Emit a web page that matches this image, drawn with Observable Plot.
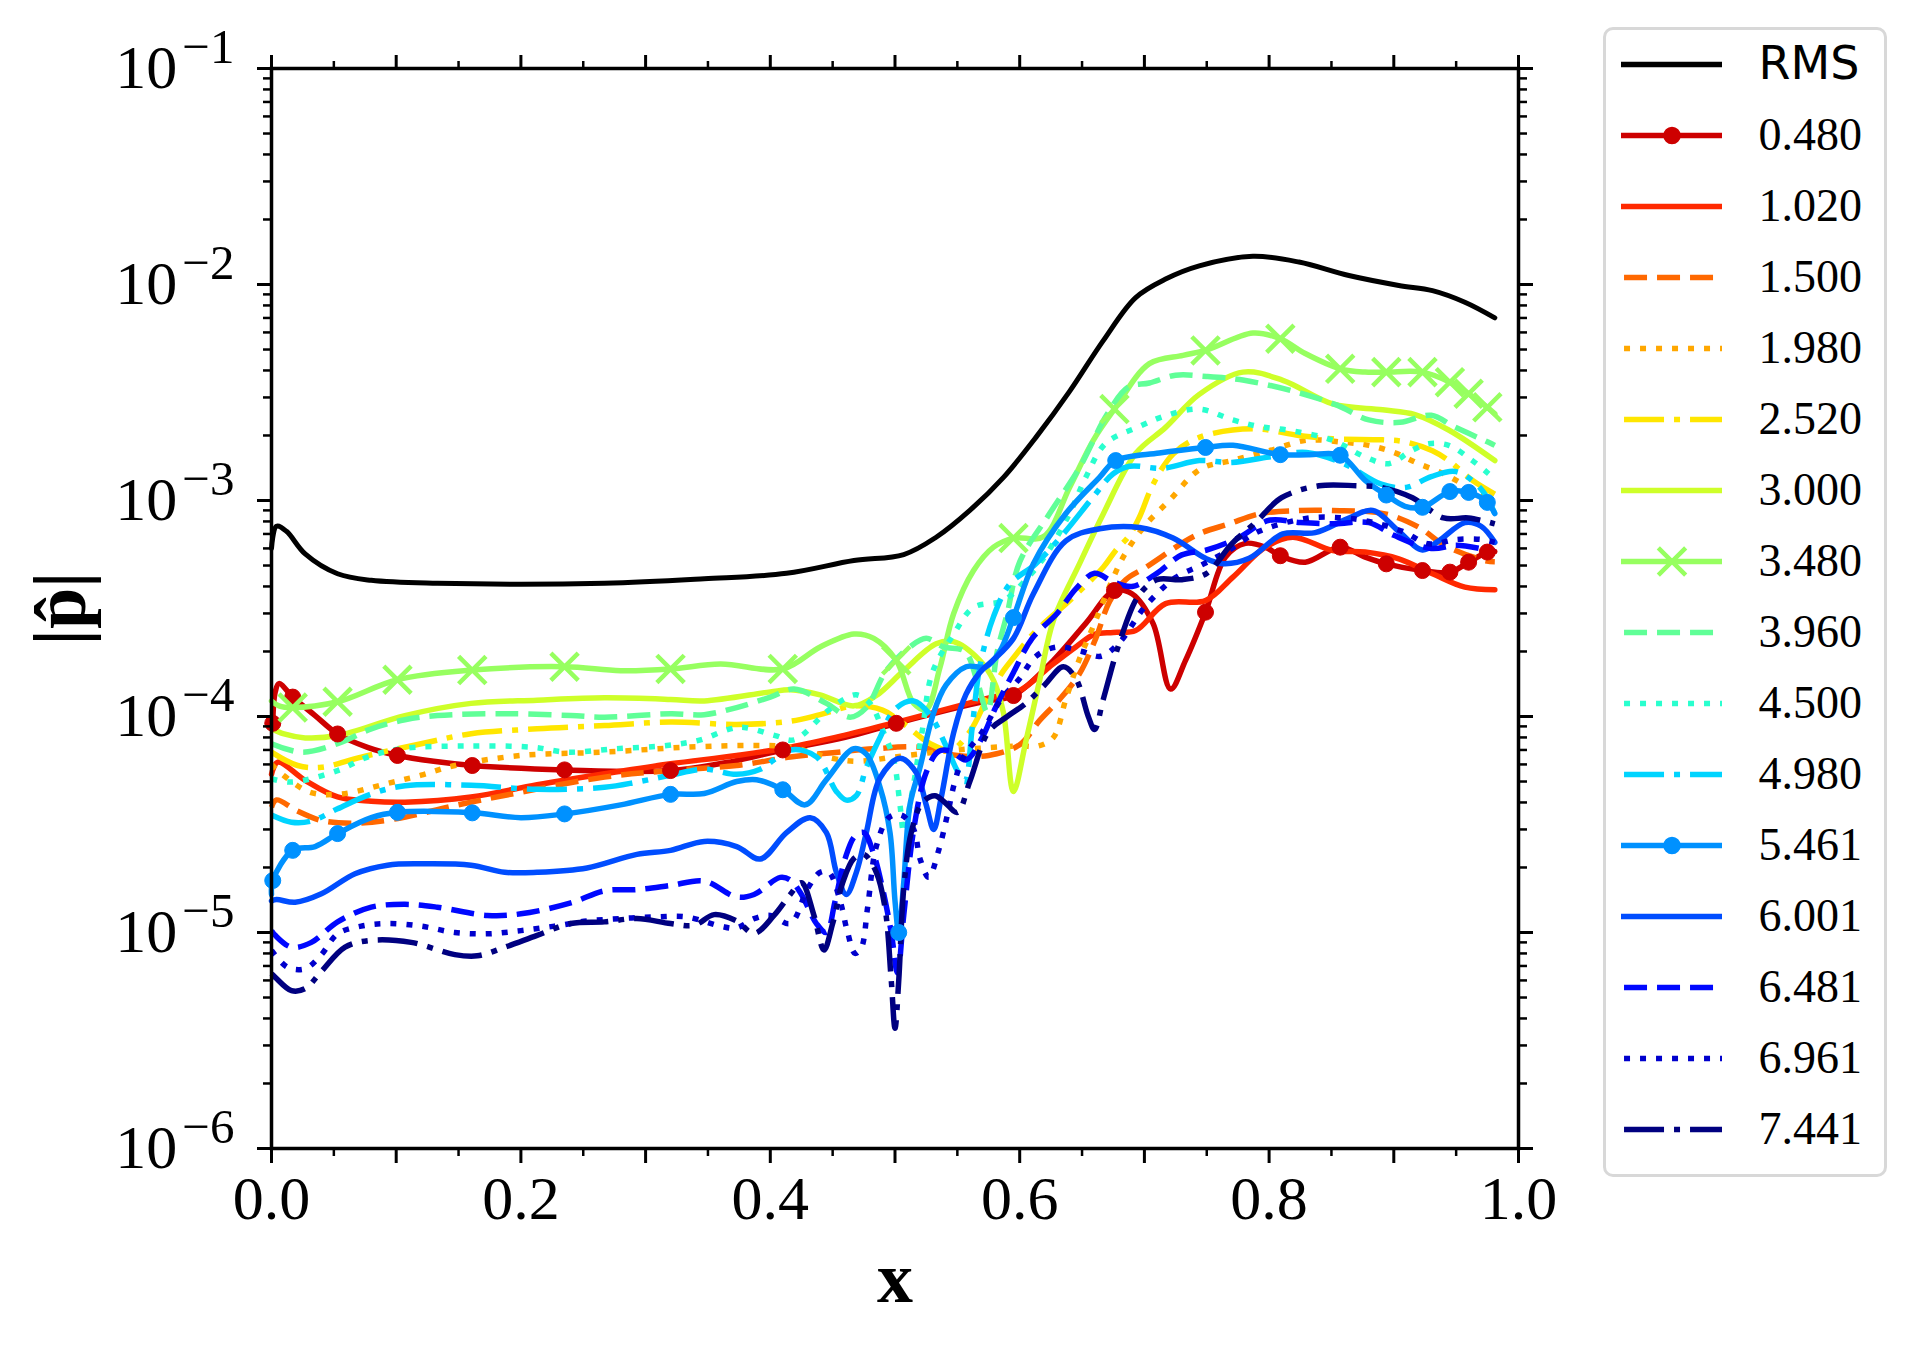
<!DOCTYPE html>
<html><head><meta charset="utf-8">
<script src="https://cdn.jsdelivr.net/npm/d3@7"></script>
<script src="https://cdn.jsdelivr.net/npm/@observablehq/plot@0.6"></script>
<style>
html,body{margin:0;padding:0;background:#fff;}
#wrap{position:relative;width:1920px;height:1350px;overflow:hidden;background:#fff;}
#chart{position:absolute;left:0;top:0;}
#legendBox{position:absolute;left:1603px;top:27px;width:284px;height:1150px;border:3px solid #d8d8d8;border-radius:10px;box-sizing:border-box;background:#fff;}
#legend{position:absolute;left:1603px;top:27px;line-height:0;}
</style>
</head><body><div id="wrap"><div id="chart"></div><div id="legendBox"></div><div id="legend"></div></div>
<script>
// ---------- data (x, |p|, marker flag) ----------
const rms = [[0,6.0e-4],[0.004,7.6e-4],[0.012,7.2e-4],[0.027,5.66e-4],[0.053,4.58e-4],[0.08,4.27e-4],[0.133,4.14e-4],[0.267,4.14e-4],[0.347,4.34e-4],[0.413,4.6e-4],[0.467,5.27e-4],[0.507,5.62e-4],[0.533,6.76e-4],[0.56,9.0e-4],[0.587,1.28e-3],[0.613,1.96e-3],[0.64,3.2e-3],[0.667,5.5e-3],[0.693,8.7e-3],[0.717,1.06e-2],[0.744,1.22e-2],[0.787,1.35e-2],[0.824,1.27e-2],[0.864,1.1e-2],[0.904,9.9e-3],[0.931,9.37e-3],[0.957,8.28e-3],[0.981,7.01e-3]];
const p0480 = [[0.001,9.3e-5,1],[0.003,1.3e-4],[0.006,1.42e-4],[0.017,1.23e-4,1],[0.035,1.01e-4],[0.053,8.3e-5,1],[0.077,7.2e-5],[0.101,6.6e-5,1],[0.13,6.2e-5],[0.161,5.93e-5,1],[0.235,5.66e-5,1],[0.32,5.62e-5,1],[0.37,6.2e-5],[0.41,7.0e-5,1],[0.46,8.0e-5],[0.501,9.3e-5,1],[0.55,1.1e-4],[0.573,1.18e-4],[0.595,1.25e-4,1],[0.627,1.82e-4],[0.653,2.7e-4],[0.676,3.83e-4,1],[0.69,3.7e-4],[0.707,2.69e-4],[0.721,1.34e-4],[0.733,1.82e-4],[0.749,3.04e-4,1],[0.765,5.47e-4],[0.781,6.33e-4],[0.797,6.08e-4],[0.809,5.55e-4,1],[0.829,5.18e-4],[0.857,6.08e-4,1],[0.877,5.47e-4],[0.894,5.09e-4,1],[0.923,4.74e-4,1],[0.945,4.66e-4,1],[0.96,5.18e-4,1],[0.975,5.77e-4,1],[0.981,5.8e-4]];
const p1020 = [[0,5.4e-5],[0.005,6.15e-5],[0.027,5.06e-5],[0.053,4.24e-5],[0.08,4.05e-5],[0.107,4.01e-5],[0.16,4.24e-5],[0.213,4.83e-5],[0.267,5.43e-5],[0.32,6.04e-5],[0.373,6.6e-5],[0.416,7.21e-5],[0.46,8.2e-5],[0.501,9.4e-5],[0.573,1.21e-4],[0.6,1.32e-4],[0.624,1.7e-4],[0.645,2.1e-4],[0.66,2.4e-4],[0.675,2.45e-4],[0.693,2.5e-4],[0.717,3.33e-4],[0.749,3.44e-4],[0.771,4.42e-4],[0.797,6.08e-4],[0.819,6.76e-4],[0.851,5.87e-4],[0.877,5.77e-4],[0.904,5.37e-4],[0.931,4.58e-4],[0.957,3.97e-4],[0.981,3.86e-4]];
const p1500 = [[0,3.8e-5],[0.004,4.11e-5],[0.02,3.67e-5],[0.04,3.3e-5],[0.067,3.21e-5],[0.1,3.36e-5],[0.147,3.87e-5],[0.2,4.46e-5],[0.267,5.24e-5],[0.32,5.62e-5],[0.373,5.93e-5],[0.416,6.49e-5],[0.45,6.8e-5],[0.485,7.1e-5],[0.52,7.2e-5],[0.55,6.6e-5],[0.575,6.6e-5],[0.6,7.4e-5],[0.616,9.6e-5],[0.632,1.2e-4],[0.648,1.58e-4],[0.661,2.3e-4],[0.672,3.4e-4],[0.685,4.3e-4],[0.701,4.9e-4],[0.741,6.89e-4],[0.768,7.8e-4],[0.792,8.67e-4],[0.824,8.99e-4],[0.851,8.99e-4],[0.893,8.67e-4],[0.92,7.52e-4],[0.941,6.19e-4],[0.973,5.27e-4],[0.981,5.2e-4]];
const p1980 = [[0,6.0e-5],[0.008,5.43e-5],[0.031,4.46e-5],[0.056,4.38e-5],[0.093,4.9e-5],[0.12,5.35e-5],[0.147,5.93e-5],[0.2,6.6e-5],[0.267,6.84e-5],[0.333,7.21e-5],[0.384,7.34e-5],[0.416,7.21e-5],[0.45,6.4e-5],[0.47,6.2e-5],[0.5,6.5e-5],[0.55,7.0e-5],[0.6,7.3e-5],[0.615,7.3e-5],[0.627,8.0e-5],[0.637,1.2e-4],[0.648,1.85e-4],[0.66,2.7e-4],[0.672,4.0e-4],[0.684,5.6e-4],[0.7,7.6e-4],[0.72,1.0e-3],[0.745,1.4e-3],[0.77,1.53e-3],[0.8,1.7e-3],[0.83,1.9e-3],[0.86,1.86e-3],[0.88,1.8e-3],[0.9,1.67e-3],[0.92,1.48e-3],[0.94,1.33e-3],[0.96,1.15e-3],[0.981,1.0e-3]];
const p2520 = [[0,6.84e-5],[0.021,5.93e-5],[0.04,5.82e-5],[0.072,6.49e-5],[0.12,7.48e-5],[0.16,8.32e-5],[0.213,8.77e-5],[0.267,9.08e-5],[0.32,9.42e-5],[0.373,9.19e-5],[0.416,9.5e-5],[0.44,1.02e-4],[0.467,1.12e-4],[0.49,1.07e-4],[0.507,9.25e-5],[0.528,7.5e-5],[0.545,7.0e-5],[0.56,8.5e-5],[0.575,1.25e-4],[0.587,1.63e-4],[0.595,1.87e-4],[0.611,2.42e-4],[0.643,3.57e-4],[0.667,4.91e-4],[0.677,5.87e-4],[0.688,6.9e-4],[0.696,8.37e-4],[0.707,1.19e-3],[0.723,1.64e-3],[0.744,1.96e-3],[0.787,2.15e-3],[0.824,2.0e-3],[0.851,1.93e-3],[0.891,1.91e-3],[0.909,1.87e-3],[0.931,1.7e-3],[0.944,1.53e-3],[0.963,1.24e-3],[0.981,1.07e-3]];
const p3000 = [[0,8.77e-5],[0.01,8.3e-5],[0.027,7.96e-5],[0.053,8.16e-5],[0.107,1.01e-4],[0.16,1.15e-4],[0.213,1.19e-4],[0.267,1.22e-4],[0.32,1.2e-4],[0.347,1.18e-4],[0.4,1.3e-4],[0.416,1.33e-4],[0.44,1.26e-4],[0.467,1.12e-4],[0.485,1.25e-4],[0.507,1.63e-4],[0.533,2.17e-4],[0.547,2.22e-4],[0.568,1.82e-4],[0.579,1.47e-4],[0.587,1.04e-4],[0.595,4.5e-5],[0.605,7.7e-5],[0.616,1.47e-4],[0.627,2.78e-4],[0.648,5.1e-4],[0.667,8.67e-4],[0.693,1.65e-3],[0.717,2.18e-3],[0.744,3.1e-3],[0.779,3.93e-3],[0.811,3.6e-3],[0.851,2.8e-3],[0.891,2.63e-3],[0.917,2.5e-3],[0.944,2.12e-3],[0.981,1.53e-3]];
const p3480 = [[0,1.18e-4],[0.006,1.12e-4],[0.017,1.1e-4,1],[0.053,1.17e-4,1],[0.101,1.48e-4,1],[0.161,1.64e-4,1],[0.235,1.7e-4,1],[0.28,1.63e-4],[0.32,1.66e-4,1],[0.36,1.75e-4],[0.41,1.66e-4,1],[0.44,2.1e-4],[0.467,2.41e-4],[0.483,2.3e-4],[0.501,1.82e-4,1],[0.515,1.15e-4],[0.525,1.08e-4],[0.536,1.68e-4],[0.547,2.99e-4],[0.563,4.74e-4],[0.579,6.08e-4],[0.595,6.7e-4,1],[0.619,6.8e-4],[0.64,1.15e-3],[0.659,1.9e-3],[0.676,2.65e-3,1],[0.704,4.3e-3],[0.731,4.7e-3],[0.749,4.95e-3,1],[0.787,5.96e-3],[0.809,5.61e-3,1],[0.829,4.79e-3],[0.857,4.07e-3,1],[0.877,3.93e-3],[0.894,3.93e-3,1],[0.923,3.93e-3,1],[0.945,3.53e-3,1],[0.96,3.12e-3,1],[0.975,2.7e-3,1],[0.981,2.52e-3]];
const p3960 = [[0,7.48e-5],[0.024,6.84e-5],[0.053,7.48e-5],[0.08,8.77e-5],[0.107,9.66e-5],[0.133,1.01e-4],[0.187,1.03e-4],[0.24,1.01e-4],[0.267,9.93e-5],[0.32,1.03e-4],[0.347,1.02e-4],[0.373,1.1e-4],[0.4,1.23e-4],[0.419,1.34e-4],[0.445,1.15e-4],[0.464,9.93e-5],[0.477,1.1e-4],[0.493,1.63e-4],[0.512,2.1e-4],[0.525,2.3e-4],[0.539,2.1e-4],[0.556,2.0e-4],[0.566,1.45e-4],[0.574,1.05e-4],[0.582,2.0e-4],[0.59,3.0e-4],[0.6,5.2e-4],[0.624,8.7e-4],[0.648,1.42e-3],[0.67,2.5e-3],[0.687,3.35e-3],[0.704,3.5e-3],[0.725,3.8e-3],[0.75,3.75e-3],[0.78,3.6e-3],[0.82,3.2e-3],[0.854,2.77e-3],[0.88,2.36e-3],[0.905,2.3e-3],[0.93,2.48e-3],[0.948,2.2e-3],[0.976,1.86e-3],[0.981,1.8e-3]];
const p4500 = [[0,5.15e-5],[0.016,4.97e-5],[0.053,5.62e-5],[0.077,6.49e-5],[0.104,7.1e-5],[0.157,7.3e-5],[0.21,7.2e-5],[0.237,6.84e-5],[0.277,7.1e-5],[0.317,7.34e-5],[0.344,7.8e-5],[0.368,8.77e-5],[0.379,8.9e-5],[0.404,8.16e-5],[0.419,7.8e-5],[0.445,1.05e-4],[0.459,1.2e-4],[0.469,1.26e-4],[0.48,1.15e-4],[0.491,8.4e-5],[0.499,6.3e-5],[0.504,3.9e-5],[0.507,2.9e-5],[0.51,3.4e-5],[0.515,4.9e-5],[0.522,8.7e-5],[0.53,1.6e-4],[0.547,2.4e-4],[0.563,3.2e-4],[0.587,3.44e-4],[0.605,4.3e-4],[0.621,5.6e-4],[0.64,8.7e-4],[0.653,1.28e-3],[0.669,1.84e-3],[0.696,2.2e-3],[0.717,2.47e-3],[0.744,2.65e-3],[0.771,2.36e-3],[0.792,2.2e-3],[0.819,2.1e-3],[0.851,1.9e-3],[0.877,1.59e-3],[0.896,1.48e-3],[0.914,1.7e-3],[0.928,1.83e-3],[0.944,1.8e-3],[0.963,1.53e-3],[0.976,1.33e-3],[0.981,1.25e-3]];
const p4980 = [[0,3.5e-5],[0.016,3.24e-5],[0.032,3.28e-5],[0.053,3.74e-5],[0.08,4.38e-5],[0.107,4.78e-5],[0.16,4.8e-5],[0.213,4.6e-5],[0.267,4.7e-5],[0.293,4.97e-5],[0.32,5.35e-5],[0.347,5.7e-5],[0.373,5.4e-5],[0.392,5.7e-5],[0.416,7.0e-5],[0.437,6.5e-5],[0.453,4.5e-5],[0.461,4.1e-5],[0.469,4.3e-5],[0.477,5.8e-5],[0.488,8.0e-5],[0.5,1.08e-4],[0.515,1.18e-4],[0.528,1.02e-4],[0.54,7.5e-5],[0.55,5.6e-5],[0.556,5.0e-5],[0.562,9.0e-5],[0.568,1.7e-4],[0.579,2.9e-4],[0.592,4.1e-4],[0.613,5.1e-4],[0.635,7.0e-4],[0.659,1.04e-3],[0.675,1.33e-3],[0.688,1.44e-3],[0.715,1.41e-3],[0.744,1.53e-3],[0.77,1.5e-3],[0.8,1.59e-3],[0.83,1.67e-3],[0.86,1.48e-3],[0.89,1.19e-3],[0.91,1.15e-3],[0.93,1.29e-3],[0.95,1.36e-3],[0.97,1.13e-3],[0.981,8.7e-4]];
const p5461 = [[0,1.5e-5],[0.001,1.74e-5,1],[0.017,2.4e-5,1],[0.035,2.5e-5],[0.053,2.87e-5,1],[0.08,3.4e-5],[0.101,3.6e-5,1],[0.161,3.58e-5,1],[0.2,3.4e-5],[0.235,3.54e-5,1],[0.28,3.9e-5],[0.32,4.36e-5,1],[0.347,4.4e-5],[0.373,5.0e-5],[0.389,5.1e-5],[0.41,4.58e-5,1],[0.428,3.9e-5],[0.445,5.1e-5],[0.467,7.1e-5],[0.477,6.7e-5],[0.488,4.7e-5],[0.496,2.9e-5],[0.5,1.4e-5],[0.503,1.0e-5,1],[0.507,1.7e-5],[0.512,3.9e-5],[0.52,5.8e-5],[0.531,1.04e-4],[0.541,1.4e-4],[0.557,1.7e-4],[0.573,1.7e-4],[0.584,2.0e-4],[0.595,2.87e-4,1],[0.611,5.1e-4],[0.637,8.7e-4],[0.664,1.28e-3],[0.677,1.53e-3,1],[0.712,1.66e-3],[0.749,1.76e-3,1],[0.771,1.8e-3],[0.809,1.63e-3,1],[0.832,1.63e-3],[0.857,1.62e-3,1],[0.877,1.24e-3],[0.894,1.06e-3,1],[0.909,9.4e-4],[0.923,9.3e-4,1],[0.945,1.1e-3,1],[0.96,1.09e-3,1],[0.975,9.8e-4,1],[0.981,8.7e-4]];
const p6001 = [[0,1.4e-5],[0.004,1.42e-5],[0.019,1.38e-5],[0.04,1.51e-5],[0.067,1.87e-5],[0.093,2.05e-5],[0.12,2.08e-5],[0.16,2.05e-5],[0.187,1.9e-5],[0.213,1.9e-5],[0.253,1.99e-5],[0.293,2.3e-5],[0.32,2.4e-5],[0.347,2.64e-5],[0.373,2.5e-5],[0.392,2.19e-5],[0.413,2.9e-5],[0.432,3.4e-5],[0.445,2.9e-5],[0.453,1.9e-5],[0.461,1.5e-5],[0.469,1.9e-5],[0.477,2.9e-5],[0.488,5.2e-5],[0.504,6.4e-5],[0.517,5.5e-5],[0.525,3.9e-5],[0.531,3.0e-5],[0.537,4.2e-5],[0.547,8.4e-5],[0.557,1.27e-4],[0.568,1.6e-4],[0.579,1.83e-4],[0.595,2.3e-4],[0.611,3.7e-4],[0.637,6.5e-4],[0.664,7.4e-4],[0.696,7.5e-4],[0.723,6.7e-4],[0.749,5.4e-4],[0.763,5.1e-4],[0.784,5.4e-4],[0.811,7.0e-4],[0.837,7.1e-4],[0.864,8.3e-4],[0.883,9.0e-4],[0.904,7.2e-4],[0.923,5.9e-4],[0.936,6.5e-4],[0.957,7.9e-4],[0.97,7.6e-4],[0.981,6.4e-4]];
const p6481 = [[0,1.02e-5],[0.003,9.7e-6],[0.016,8.55e-6],[0.032,9.0e-6],[0.053,1.12e-5],[0.08,1.31e-5],[0.107,1.35e-5],[0.133,1.31e-5],[0.173,1.2e-5],[0.2,1.22e-5],[0.24,1.37e-5],[0.267,1.56e-5],[0.293,1.58e-5],[0.32,1.65e-5],[0.347,1.73e-5],[0.373,1.46e-5],[0.387,1.5e-5],[0.408,1.8e-5],[0.416,1.75e-5],[0.425,1.5e-5],[0.437,1.1e-5],[0.445,1.0e-5],[0.452,1.4e-5],[0.46,2.2e-5],[0.468,2.8e-5],[0.475,2.9e-5],[0.483,2.3e-5],[0.49,1.6e-5],[0.497,1.0e-5],[0.502,6.5e-6],[0.507,1.2e-5],[0.515,3.0e-5],[0.525,5.5e-5],[0.535,6.9e-5],[0.545,6.9e-5],[0.557,6.3e-5],[0.57,8.0e-5],[0.58,1.08e-4],[0.595,1.6e-4],[0.61,2.3e-4],[0.63,3.0e-4],[0.645,3.9e-4],[0.66,4.6e-4],[0.675,4.2e-4],[0.69,4.0e-4],[0.71,4.6e-4],[0.73,5.6e-4],[0.75,5.9e-4],[0.775,6.7e-4],[0.8,8.1e-4],[0.825,7.9e-4],[0.853,7.8e-4],[0.88,7.9e-4],[0.9,6.9e-4],[0.93,6.0e-4],[0.95,6.2e-4],[0.975,5.9e-4],[0.981,5.8e-4]];
const p6961 = [[0,8.26e-6],[0.013,6.9e-6],[0.027,6.8e-6],[0.04,7.9e-6],[0.053,9.86e-6],[0.072,1.07e-5],[0.093,1.1e-5],[0.12,1.07e-5],[0.147,1.0e-5],[0.173,9.86e-6],[0.2,1.02e-5],[0.227,1.07e-5],[0.253,1.13e-5],[0.28,1.16e-5],[0.307,1.18e-5],[0.333,1.18e-5],[0.36,1.07e-5],[0.373,1.05e-5],[0.387,1.16e-5],[0.4,1.2e-5],[0.416,1.1e-5],[0.43,1.6e-5],[0.44,1.9e-5],[0.447,1.9e-5],[0.456,1.4e-5],[0.462,1.0e-5],[0.468,8.0e-6],[0.473,8.5e-6],[0.478,1.3e-5],[0.485,2.5e-5],[0.495,3.4e-5],[0.505,3.5e-5],[0.515,3.0e-5],[0.52,2.2e-5],[0.527,1.8e-5],[0.535,2.4e-5],[0.542,3.5e-5],[0.548,5.0e-5],[0.555,6.5e-5],[0.57,8.5e-5],[0.585,1.2e-4],[0.6,1.5e-4],[0.613,1.9e-4],[0.63,2.1e-4],[0.65,2.0e-4],[0.665,1.9e-4],[0.68,2.2e-4],[0.7,3.2e-4],[0.725,4.4e-4],[0.745,5.0e-4],[0.768,5.9e-4],[0.792,7.2e-4],[0.832,8.3e-4],[0.86,8.3e-4],[0.88,8.0e-4],[0.907,7.2e-4],[0.928,6.3e-4],[0.95,6.6e-4],[0.97,6.6e-4],[0.981,6.4e-4]];
const p7441 = [[0,6.44e-6],[0.003,6.2e-6],[0.016,5.38e-6],[0.027,5.5e-6],[0.04,6.6e-6],[0.059,8.55e-6],[0.08,9.2e-6],[0.112,9.0e-6],[0.147,7.9e-6],[0.165,7.8e-6],[0.187,8.55e-6],[0.213,9.7e-6],[0.24,1.1e-5],[0.267,1.12e-5],[0.293,1.16e-5],[0.32,1.1e-5],[0.339,1.08e-5],[0.355,1.21e-5],[0.373,1.13e-5],[0.387,9.9e-6],[0.403,1.2e-5],[0.416,1.5e-5],[0.425,1.7e-5],[0.435,1.2e-5],[0.443,8.3e-6],[0.45,1.1e-5],[0.458,1.7e-5],[0.467,2.2e-5],[0.475,2.3e-5],[0.485,1.9e-5],[0.492,1.3e-5],[0.497,6.0e-6],[0.5,3.6e-6],[0.503,6.0e-6],[0.507,1.6e-5],[0.513,2.9e-5],[0.522,4.0e-5],[0.532,4.3e-5],[0.54,4.0e-5],[0.55,3.6e-5],[0.56,5.0e-5],[0.575,8.5e-5],[0.59,1.0e-4],[0.605,1.15e-4],[0.62,1.4e-4],[0.635,1.7e-4],[0.645,1.5e-4],[0.655,1.0e-4],[0.66,8.7e-5],[0.667,1.2e-4],[0.68,2.2e-4],[0.695,3.6e-4],[0.71,4.3e-4],[0.73,4.3e-4],[0.75,4.6e-4],[0.77,6.3e-4],[0.79,8.0e-4],[0.81,1.03e-3],[0.84,1.17e-3],[0.87,1.17e-3],[0.89,1.15e-3],[0.915,1.03e-3],[0.94,8.3e-4],[0.96,8.3e-4],[0.981,7.8e-4]];

const seriesLabels = ["RMS","0.480","1.020","1.500","1.980","2.520","3.000","3.480","3.960","4.500","4.980","5.461","6.001","6.481","6.961","7.441"];
const seriesData   = [rms,p0480,p1020,p1500,p1980,p2520,p3000,p3480,p3960,p4500,p4980,p5461,p6001,p6481,p6961,p7441];
const seriesColors = ["#000000","#cd0000","#ff2900","#ff6800","#ffa700","#ffe600","#ceff29","#97ff60","#60ff97","#29ffce","#00d4ff","#0091ff","#004dff","#0008ff","#0000cd","#000080"];
const seriesStyles = ["solid","solid","solid","dashed","dotted","dashdot","solid","solid","dashed","dotted","dashdot","solid","solid","dashed","dotted","dashdot"];
const seriesMarkers = [null,"circle",null,null,null,null,null,"times",null,null,null,"circle",null,null,null,null];

// axis ticks
const xMajor = [0,0.1,0.2,0.3,0.4,0.5,0.6,0.7,0.8,0.9,1.0];
const xMinor = [0.05,0.15,0.25,0.35,0.45,0.55,0.65,0.75,0.85,0.95];
const xLabeled = [0,0.2,0.4,0.6,0.8,1.0];
const yMajor = [1e-6,1e-5,1e-4,1e-3,1e-2,1e-1];
const yMinor = [2e-6,3e-6,4e-6,5e-6,6e-6,7e-6,8e-6,9e-6,2e-5,3e-5,4e-5,5e-5,6e-5,7e-5,8e-5,9e-5,2e-4,3e-4,4e-4,5e-4,6e-4,7e-4,8e-4,9e-4,2e-3,3e-3,4e-3,5e-3,6e-3,7e-3,8e-3,9e-3,2e-2,3e-2,4e-2,5e-2,6e-2,7e-2,8e-2,9e-2];

// ---------- styles ----------
const dashes = {solid: null, dashed: "23,10", dotted: "6,10", dashdot: "40,10,6,10"};
const LW = 5.5;
const serif = "'Liberation Serif', 'DejaVu Serif', serif";

const toRows = arr => arr.map(([x, y, m]) => ({x, y, m: !!m}));

const lineMarks = [];
const dotMarks = [];
seriesData.forEach((arr, i) => {
  const rows = toRows(arr);
  const st = seriesStyles[i];
  lineMarks.push(Plot.line(rows, {
    x: "x", y: "y", stroke: seriesColors[i], strokeWidth: i === 0 ? 5 : LW,
    strokeDasharray: dashes[st], strokeLinecap: st === "solid" ? "round" : "butt",
    strokeLinejoin: "round", curve: "catmull-rom"
  }));
  if (seriesMarkers[i] === "circle") {
    dotMarks.push(Plot.dot(rows.filter(d => d.m), {x: "x", y: "y", r: 8, fill: seriesColors[i], stroke: seriesColors[i], strokeWidth: 1}));
  } else if (seriesMarkers[i] === "times") {
    dotMarks.push(Plot.dot(rows.filter(d => d.m), {x: "x", y: "y", r: 12.5, symbol: "times", stroke: seriesColors[i], strokeWidth: 4.5}));
  }
});

const supFmt = d => "10^" + Math.round(Math.log10(d));

const chart = Plot.plot({
  width: 1920, height: 1350,
  marginLeft: 271, marginRight: 402, marginTop: 68, marginBottom: 202,
  style: {fontFamily: serif, fontSize: "62px", background: "transparent", color: "black", overflow: "visible"},
  x: {domain: [0, 1], label: null},
  y: {type: "log", domain: [1e-6, 1e-1], label: null},
  marks: [
    ...lineMarks,
    ...dotMarks,
    Plot.frame({stroke: "black", strokeWidth: 3.5}),
    Plot.axisX(xMajor, {anchor: "bottom", tickSize: 15, strokeWidth: 3, fill: "none", label: null, tickFormat: () => ""}),
    Plot.axisX(xMinor, {anchor: "bottom", tickSize: 8, strokeWidth: 2.5, fill: "none", label: null, tickFormat: () => ""}),
    Plot.axisX(xMajor, {anchor: "top", tickSize: 14, strokeWidth: 3, fill: "none", label: null, tickFormat: () => ""}),
    Plot.axisX(xMinor, {anchor: "top", tickSize: 8, strokeWidth: 2.5, fill: "none", label: null, tickFormat: () => ""}),
    Plot.axisY(yMajor, {anchor: "left", tickSize: 14, strokeWidth: 3, fill: "none", label: null, tickFormat: () => ""}),
    Plot.axisY(yMinor, {anchor: "left", tickSize: 8, strokeWidth: 2.5, fill: "none", label: null, tickFormat: () => ""}),
    Plot.axisY(yMajor, {anchor: "right", tickSize: 14, strokeWidth: 3, fill: "none", label: null, tickFormat: () => ""}),
    Plot.axisY(yMinor, {anchor: "right", tickSize: 8, strokeWidth: 2.5, fill: "none", label: null, tickFormat: () => ""}),
    Plot.axisX(xLabeled, {anchor: "bottom", tickSize: 0, tickPadding: 26, tickFormat: d3.format(".1f"), fontSize: 62, fontFamily: serif, label: null}),
    Plot.axisY(yMajor, {anchor: "left", tickSize: 0, tickPadding: 37, tickFormat: supFmt, fontSize: 62, fontFamily: serif, label: null}),
    Plot.text(["x"], {frameAnchor: "bottom", dy: 130, textAnchor: "middle", lineAnchor: "middle", fontSize: 72, fontWeight: "bold", fontFamily: serif, fill: "black"}),
    Plot.text(["|p\u0302|"], {frameAnchor: "left", dx: -210, textAnchor: "middle", lineAnchor: "middle", rotate: -90, fontSize: 74, fontWeight: "bold", fontFamily: serif, fill: "black"})
  ]
});

// convert "10^-n" tick labels into real superscripts
chart.querySelectorAll("text").forEach(t => {
  const s = t.textContent;
  const m = /^10\^(-?\d+)$/.exec(s);
  if (!m) return;
  while (t.firstChild) t.removeChild(t.firstChild);
  const ns = "http://www.w3.org/2000/svg";
  const a = document.createElementNS(ns, "tspan");
  a.textContent = "10";
  const b = document.createElementNS(ns, "tspan");
  b.setAttribute("dy", "-0.52em");
  b.setAttribute("dx", "5");
  b.setAttribute("font-size", "49px");
  b.textContent = m[1].replace("-", "\u2212");
  t.appendChild(a); t.appendChild(b);
});
document.getElementById("chart").appendChild(chart);

// ---------- legend ----------
const legendMarks = [];
seriesLabels.forEach((lab, i) => {
  const st = seriesStyles[i];
  legendMarks.push(Plot.ruleY([lab], {
    y: d => d, x1: st === "solid" ? 0 : 0.03, x2: 1,
    stroke: seriesColors[i], strokeWidth: LW, strokeDasharray: dashes[st],
    strokeLinecap: "butt"
  }));
  if (seriesMarkers[i] === "circle") legendMarks.push(Plot.dot([lab], {x: 0.5, y: d => d, r: 8, fill: seriesColors[i], stroke: seriesColors[i]}));
  if (seriesMarkers[i] === "times") legendMarks.push(Plot.dot([lab], {x: 0.5, y: d => d, r: 12.5, symbol: "times", stroke: seriesColors[i], strokeWidth: 4.5}));
});
legendMarks.push(Plot.text(seriesLabels.slice(0, 1), {x: 1, y: d => d, dx: 36, text: d => d, textAnchor: "start", fontSize: 46, fontFamily: "'DejaVu Sans', sans-serif", fill: "black"}));
legendMarks.push(Plot.text(seriesLabels.slice(1), {x: 1, y: d => d, dx: 36, text: d => d, textAnchor: "start", fontSize: 46, fontFamily: serif, fill: "black"}));

const legend = Plot.plot({
  width: 284, height: 1150, margin: 0,
  style: {background: "transparent", overflow: "visible", display: "block"},
  x: {domain: [0, 1], range: [18, 119], axis: null},
  y: {type: "point", domain: seriesLabels, range: [33, 1106], padding: 0, axis: null},
  marks: legendMarks
});
document.getElementById("legend").appendChild(legend);
</script>
</body></html>
